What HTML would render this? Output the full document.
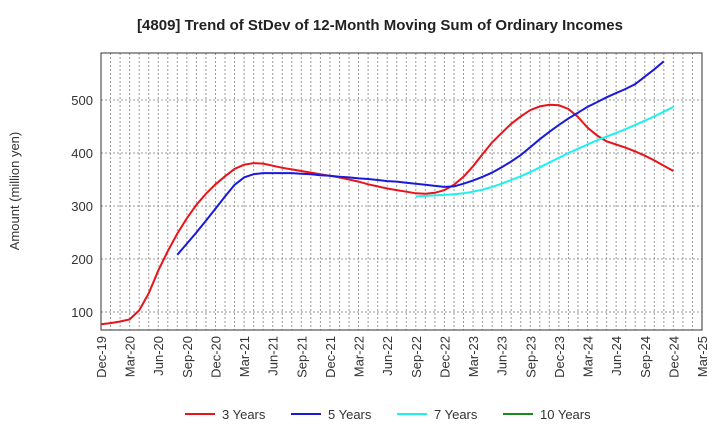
<!DOCTYPE html>
<html><head><meta charset="utf-8"><style>
body{margin:0;background:#fff;font-family:"Liberation Sans",sans-serif}
</style></head><body>
<svg width="720" height="440" xmlns="http://www.w3.org/2000/svg" font-family="Liberation Sans, sans-serif">
<text x="380" y="30" text-anchor="middle" font-size="15" font-weight="bold" fill="#222">[4809]  Trend of StDev of 12-Month Moving Sum of Ordinary Incomes</text>
<text transform="translate(19,191) rotate(-90)" text-anchor="middle" font-size="13" fill="#333">Amount (million yen)</text>
<g id="grid"></g><g id="axes"></g><g id="series"></g><g id="legend"></g>
</svg>
<script>
const xLabels=["Dec-19","Mar-20","Jun-20","Sep-20","Dec-20","Mar-21","Jun-21","Sep-21","Dec-21","Mar-22","Jun-22","Sep-22","Dec-22","Mar-23","Jun-23","Sep-23","Dec-23","Mar-24","Jun-24","Sep-24","Dec-24","Mar-25"];
const yTicks=[100,200,300,400,500];
const red3=[77,79,82,86,103,135,178,215,248,277,302,323,341,356,370,378,381,380,376,372,369,366,363,360,357,354,350,346,341,337,333,330,327,324,323,325,330,340,355,375,398,420,438,455,469,481,488,491,490,483,468,448,433,422,416,410,403,395,386,376,366];
const blue5Start=8;
const blue5=[208,229,250,272,295,318,340,354,360,362,362,362,362,361,360,358,357,355,354,352,351,349,347,346,344,342,340,338,336,337,342,348,355,363,373,384,396,411,426,440,453,465,476,487,496,505,513,521,530,544,558,573];
const cyan7Start=33;
const cyan7=[318,319,320,321,322,324,327,331,336,342,349,356,364,373,382,391,400,408,416,424,431,438,445,453,461,469,478,487];
const green10=[];
const L=101,T=53,R=702,B=330,NM=63;
const xS=i=>L+i*(R-L)/NM;
const yS=v=>312-(v-100)*0.53;
const NS="http://www.w3.org/2000/svg";
function mk(tag,attrs,parent){const e=document.createElementNS(NS,tag);for(const k in attrs)e.setAttribute(k,attrs[k]);document.getElementById(parent).appendChild(e);return e;}
for(let m=1;m<NM;m++){const l=mk('line',{x1:xS(m),x2:xS(m),y1:T,y2:B,stroke:'#999','stroke-width':1,'stroke-dasharray':'2,2'},'grid');

}
yTicks.forEach(v=>{const l=mk('line',{x1:L,x2:R,y1:yS(v),y2:yS(v),stroke:'#999','stroke-width':1,'stroke-dasharray':'2,2'},'grid');


const t=mk('text',{x:L-8,y:yS(v)+5,'text-anchor':'end','font-size':13,fill:'#333'},'axes');t.textContent=v;

});
xLabels.forEach((s,i)=>{const x=xS(i*3);const t=mk('text',{transform:`translate(${x+5},336) rotate(-90)`,'text-anchor':'end','font-size':13,fill:'#333'},'axes');t.textContent=s;

});
const fr=mk('rect',{x:L,y:T,width:R-L,height:B-T,fill:'none',stroke:'#333','stroke-width':1},'axes');


function line(vals,start,col,name){if(!vals.length)return;const p=vals.map((v,k)=>`${xS(start+k).toFixed(1)},${yS(v).toFixed(1)}`).join(' ');
const e=mk('polyline',{points:p,fill:'none',stroke:col,'stroke-width':2},'series');

}
line(red3,0,'#e8141b','series-3-years');
line(blue5,blue5Start,'#1a1adb','series-5-years');
line(cyan7,cyan7Start,'#1ef0f0','series-7-years');
line(green10,0,'#1a8a1a','series-10-years');
[["3 Years","#e8141b",185],["5 Years","#1a1adb",291],["7 Years","#1ef0f0",397],["10 Years","#1a8a1a",503]].forEach(([n,c,x])=>{
const l=mk('line',{x1:x,x2:x+30,y1:414,y2:414,stroke:c,'stroke-width':2},'legend');


const t=mk('text',{x:x+37,y:419,'font-size':13,fill:'#333'},'legend');t.textContent=n;

});
</script>
</body></html>
